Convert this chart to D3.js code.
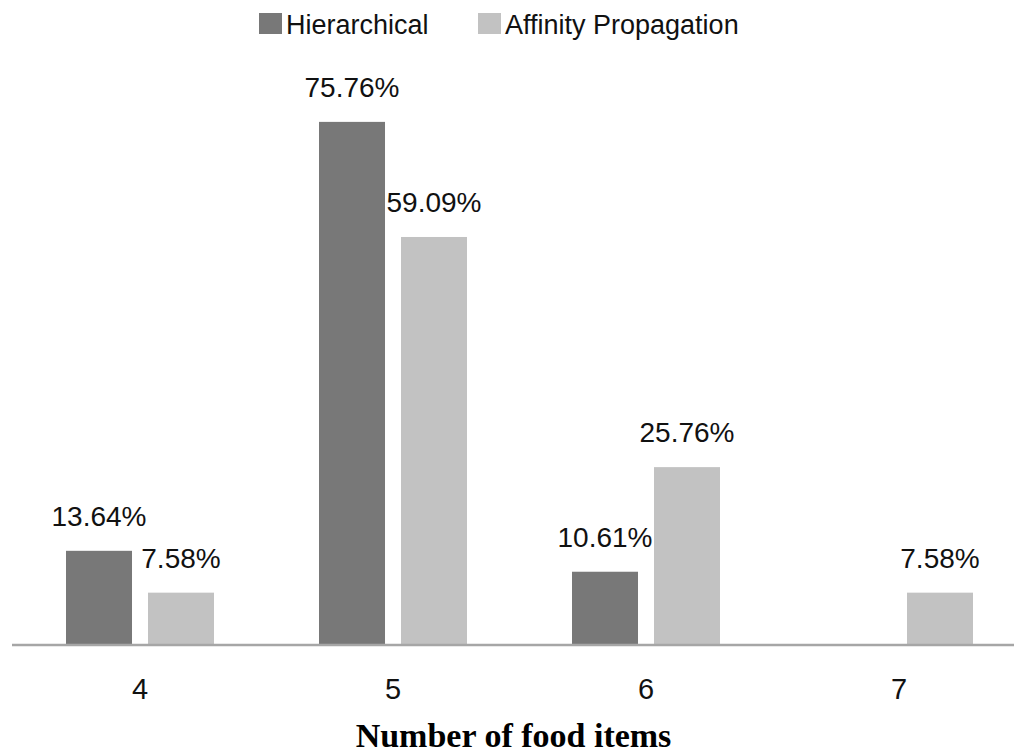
<!DOCTYPE html>
<html><head><meta charset="utf-8">
<script src="https://cdn.jsdelivr.net/npm/d3@7"></script>
<style>body{margin:0;background:#fff}svg{display:block}</style>
</head><body>
<script>
const categories = ["4", "5", "6", "7"];
const seriesNames = ["Hierarchical", "Affinity Propagation"];
const hierarchical = [13.64, 75.76, 10.61, null];
const affinity = [7.58, 59.09, 25.76, 7.58];
const colors = ["#787878", "#c2c2c2"];

const W = 1014, H = 756;
const svg = d3.select("body").append("svg").attr("width", W).attr("height", H);
const baseY = 645;
const y = d3.scaleLinear().domain([0, 80]).range([baseY, baseY - 80 * 6.905]);
const x = d3.scaleBand().domain(categories).range([13.5, 1025.5]).padding(0);
const inner = d3.scaleBand().domain(seriesNames)
  .range([x.bandwidth() / 2 - 74, x.bandwidth() / 2 + 74]).paddingInner(0.195);

const series = [hierarchical, affinity];
const font = "'Liberation Sans', Arial, sans-serif";

seriesNames.forEach((s, si) => {
  const g = svg.append("g");
  const data = categories.map((c, i) => ({c, v: series[si][i]})).filter(d => d.v != null);
  g.selectAll("rect").data(data).join("rect")
    .attr("x", d => x(d.c) + inner(s))
    .attr("width", inner.bandwidth())
    .attr("y", d => y(d.v))
    .attr("height", d => baseY - y(d.v))
    .attr("fill", colors[si]);
  g.selectAll("text").data(data).join("text")
    .attr("x", d => x(d.c) + inner(s) + inner.bandwidth() / 2)
    .attr("y", d => y(d.v) - 25)
    .attr("text-anchor", "middle")
    .attr("font-family", font).attr("font-size", 28).attr("fill", "#111")
    .text(d => d.v.toFixed(2) + "%");
});

// axis baseline
const xAxis = d3.axisBottom(x).tickSize(0).tickPadding(0);
const ax = svg.append("g").attr("transform", `translate(0,${baseY})`).call(xAxis);
ax.select(".domain").attr("d", `M12,0H${W}`).attr("stroke", "#a6a6a6").attr("stroke-width", 2.5);
ax.selectAll(".tick text").attr("font-family", font).attr("font-size", 29).attr("fill", "#111")
  .attr("dy", null).attr("y", 54);

// x title
svg.append("text").attr("x", 513.5).attr("y", 747).attr("text-anchor", "middle")
  .attr("font-family", "'Liberation Serif', 'Times New Roman', serif")
  .attr("font-weight", "bold").attr("font-size", 34).attr("fill", "#000")
  .text("Number of food items");

// legend
const legendX = [259, 478];
const lg = svg.append("g");
seriesNames.forEach((s, i) => {
  lg.append("rect").attr("x", legendX[i]).attr("y", 13).attr("width", 23).attr("height", 21).attr("fill", colors[i]);
  lg.append("text").attr("x", legendX[i] + 27).attr("y", 34)
    .attr("font-family", font).attr("font-size", 27).attr("fill", "#111").text(s);
});
</script>
</body></html>
